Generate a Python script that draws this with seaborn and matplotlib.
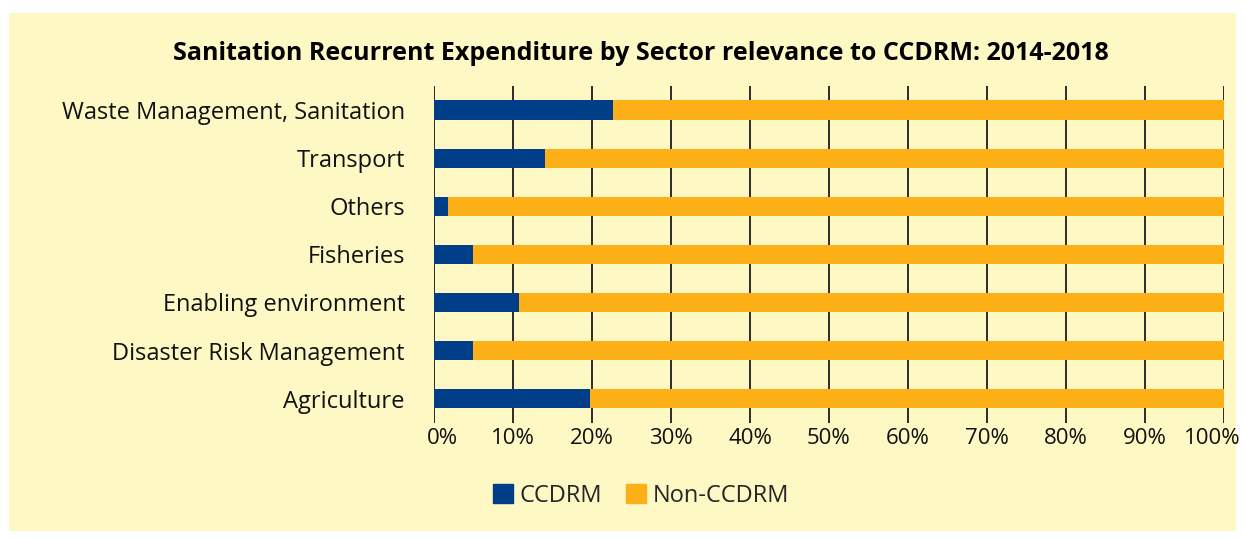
import matplotlib.pyplot as plt
import matplotlib.patches as mpatches
import matplotlib.transforms as mtransforms
import numpy as np
import seaborn as sns
import pandas as pd

sectors = ['Waste Management, Sanitation', 'Transport', 'Others', 'Fisheries',
           'Enabling environment', 'Disaster Risk Management', 'Agriculture']
ccdrm = [22.6, 14.1, 1.8, 4.9, 10.8, 4.9, 19.8]
non_ccdrm = [100 - v for v in ccdrm]
pct_ticks = list(range(0, 101, 10))

BG = '#FEF8C4'
NAVY = '#003F87'
ORANGE = '#FCAF17'

sns.set_theme(style='white')
plt.rcParams['font.family'] = ['Open Sans', 'DejaVu Sans']

df = pd.DataFrame({'sector': sectors, 'ccdrm': ccdrm, 'non_ccdrm': non_ccdrm})
df['total'] = df['ccdrm'] + df['non_ccdrm']

fig = plt.figure(figsize=(12.45, 5.39), dpi=100, facecolor='white')
fig.patches.append(mpatches.Rectangle((9 / 1245, 1 - 531 / 539), 1227 / 1245, 518 / 539,
                                      transform=fig.transFigure, facecolor=BG,
                                      edgecolor='none', zorder=-1))
ax = fig.add_axes([434 / 1245, 1 - 422.7 / 539, 790 / 1245, 336.7 / 539])
ax.patch.set_alpha(0)

sns.barplot(data=df, y='sector', x='total', orient='h', color=ORANGE, width=0.4,
            saturation=1, linewidth=0, ax=ax, zorder=3)
sns.barplot(data=df, y='sector', x='ccdrm', orient='h', color=NAVY, width=0.4,
            saturation=1, linewidth=0, ax=ax, zorder=4)

ax.set_xlim(0, 100)
ax.set_ylim(6.5, -0.5)
ax.set_xticks(pct_ticks)
ax.set_xticklabels([f'{t}%' for t in pct_ticks])
for t in pct_ticks:
    ax.axvline(t, color='#2b2b2b', lw=1.4, zorder=1)
ax.tick_params(axis='x', length=0, pad=4, labelsize=16, colors='#111111')
ax.tick_params(axis='y', length=0, pad=21, labelsize=17, colors='#111111')
ax.set_xlabel('')
ax.set_ylabel('')
for s in ax.spines.values():
    s.set_visible(False)

# end labels sit slightly inward like the original
xlabels = ax.get_xticklabels()
xlabels[0].set_transform(xlabels[0].get_transform() +
                         mtransforms.ScaledTranslation(8 / 100, 0, fig.dpi_scale_trans))
xlabels[-1].set_transform(xlabels[-1].get_transform() +
                          mtransforms.ScaledTranslation(-12 / 100, 0, fig.dpi_scale_trans))

fig.text(0.515, 1 - 53 / 539, 'Sanitation Recurrent Expenditure by Sector relevance to CCDRM: 2014-2018',
         ha='center', va='center', fontsize=18, fontweight='bold', color='black')

handles = [mpatches.Patch(color=NAVY, label='CCDRM'),
           mpatches.Patch(color=ORANGE, label='Non-CCDRM')]
fig.legend(handles=handles, loc='center', bbox_to_anchor=(0.515, 1 - 496 / 539), ncol=2,
           frameon=False, fontsize=17, handlelength=0.85, handleheight=0.85,
           handletextpad=0.3, columnspacing=1.0)

fig.savefig('out.png', dpi=100, facecolor='white')
